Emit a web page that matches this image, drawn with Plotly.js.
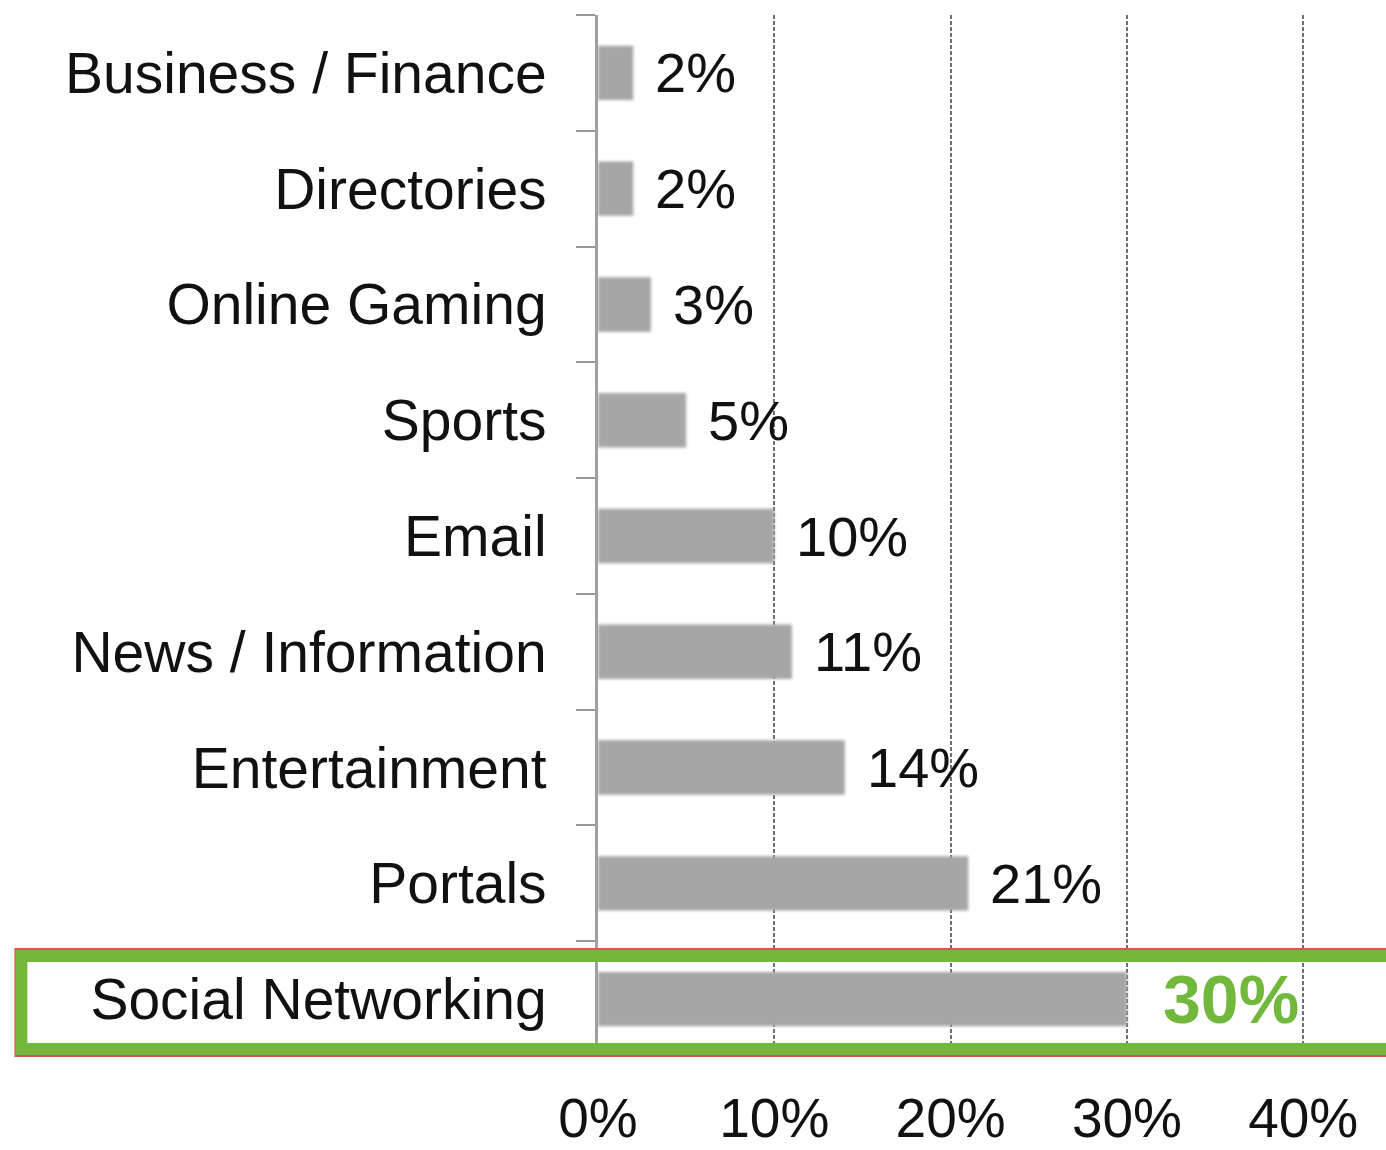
<!DOCTYPE html>
<html>
<head>
<meta charset="utf-8">
<script src="https://cdn.plot.ly/plotly-3.0.1.min.js"></script>
<style>
  html, body { margin: 0; padding: 0; background: #fff; }
  #chart { width: 1386px; height: 1150px; }
  .barlayer path { filter: blur(1.8px); }
</style>
</head>
<body>
<div id="chart"></div>
<script>
// ---- data ----
const categories = ["Business / Finance", "Directories", "Online Gaming", "Sports", "Email",
                    "News / Information", "Entertainment", "Portals", "Social Networking"];
const shares = [2, 2, 3, 5, 10, 11, 14, 21, 30];
const tickValues = [0, 10, 20, 30, 40];
const tickLabels = ["0%", "10%", "20%", "30%", "40%"];
const highlighted = "Social Networking";

// ---- style ----
const FONT = "'Liberation Sans', Arial, Helvetica, sans-serif";
const GREEN = "#72b83c";

const trace = {
  type: "bar",
  orientation: "h",
  y: categories,
  x: shares,
  width: 0.47,
  marker: { color: "#a6a6a6" },
  hoverinfo: "none"
};

const annotations = categories.map((c, i) => {
  const hi = c === highlighted;
  return {
    x: shares[i], y: c, xref: "x", yref: "y",
    text: shares[i] + "%",
    showarrow: false, xanchor: "left", yanchor: "middle",
    xshift: hi ? 34 : 20,
    font: hi ? { family: FONT, size: 68, color: GREEN, weight: "bold" }
             : { family: FONT, size: 56, color: "#111" }
  };
});

const layout = {
  width: 1386, height: 1150,
  margin: { l: 598, r: 81, t: 15, b: 93 },
  paper_bgcolor: "#fff", plot_bgcolor: "#fff",
  showlegend: false,
  font: { family: FONT, color: "#111" },
  xaxis: {
    range: [0, 40.1],
    tickvals: tickValues, ticktext: tickLabels,
    showgrid: true, gridcolor: "#6f6f6f", gridwidth: 2, griddash: "4px,2px",
    zeroline: false, showline: false, ticks: "",
    tickfont: { family: FONT, size: 55, color: "#111" },
    ticklabelstandoff: 24,
    fixedrange: true
  },
  yaxis: {
    type: "category",
    autorange: "reversed",
    tickson: "boundaries",
    ticks: "outside", ticklen: 19, tickwidth: 2, tickcolor: "#999",
    showline: true, linecolor: "#a0a0a0", linewidth: 3,
    showgrid: false, zeroline: false,
    tickfont: { family: FONT, size: 57, color: "#111" },
    ticklabelstandoff: 37,
    fixedrange: true
  },
  shapes: [
    { type: "rect", xref: "paper", yref: "paper", layer: "above",
      x0: -0.824, x1: 1.2, y0: 0.001, y1: 0.1036,
      line: { color: "#e05050", width: 2 } },
    { type: "rect", xref: "paper", yref: "paper", layer: "above",
      x0: -0.8156, x1: 1.2, y0: 0.0077, y1: 0.0969,
      line: { color: GREEN, width: 12 } }
  ],
  annotations: annotations
};

Plotly.newPlot("chart", [trace], layout, { displayModeBar: false, staticPlot: true });
</script>
</body>
</html>
